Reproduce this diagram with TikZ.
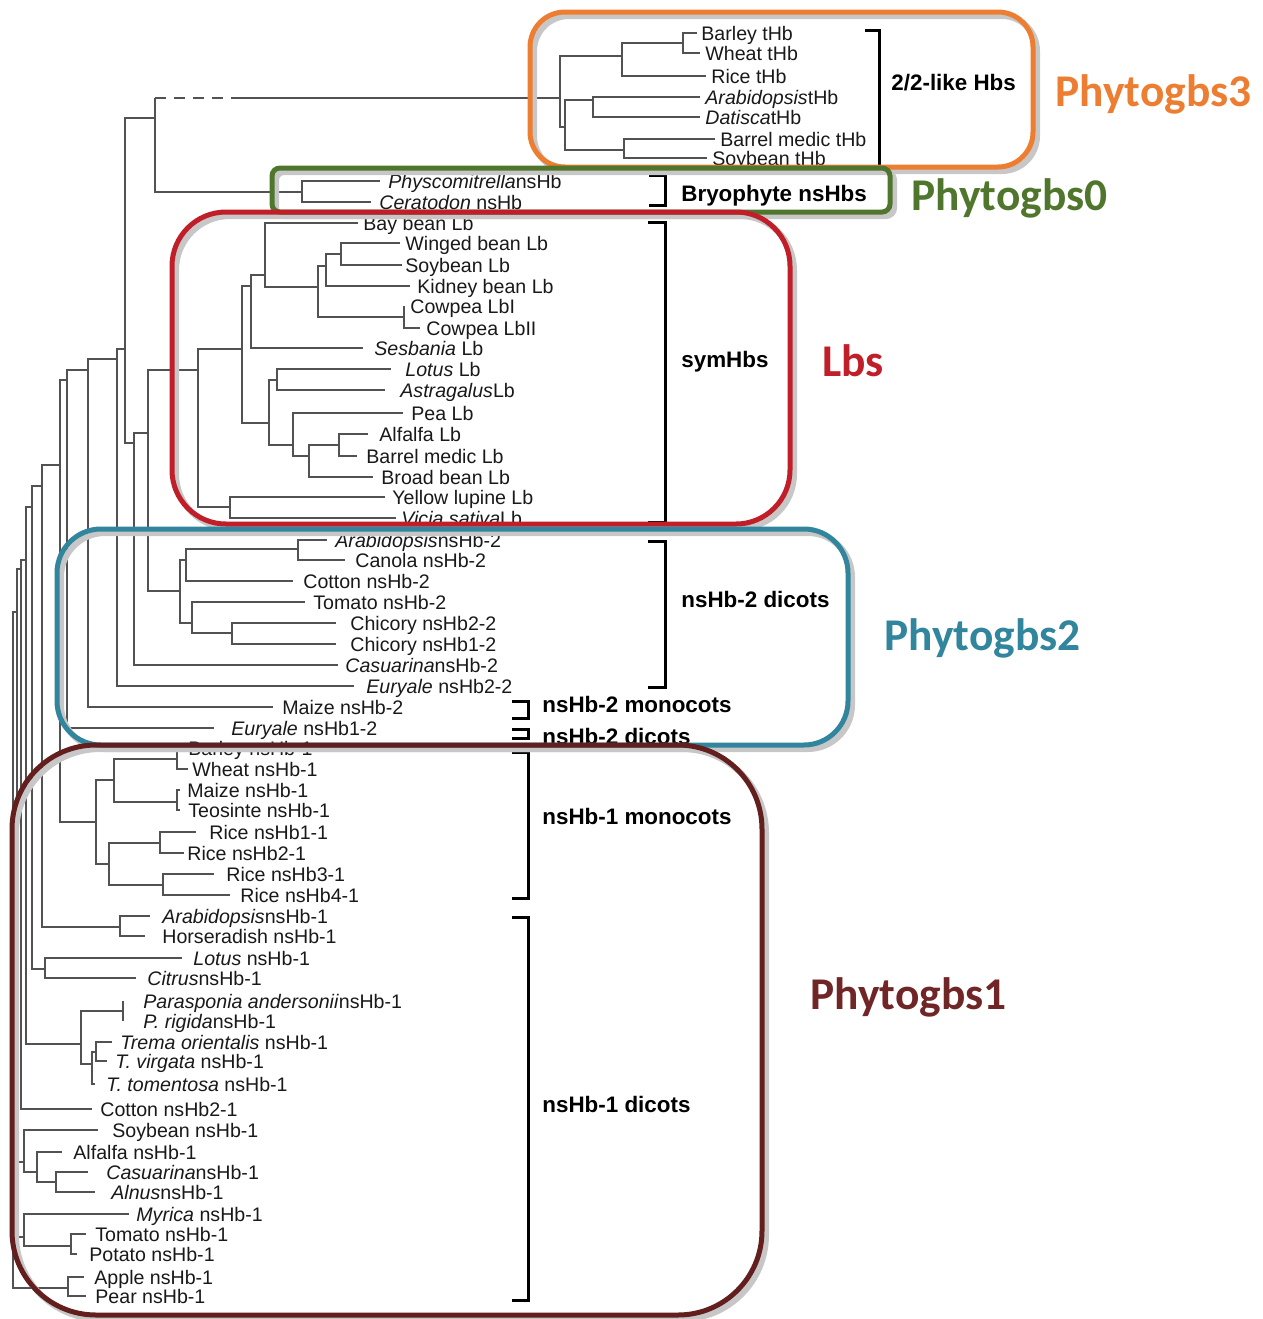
\documentclass[tikz,border=0pt]{standalone}
\usepackage{fontspec}
\setmainfont{Liberation Sans}
\newfontfamily\bigfont{Carlito}
\definecolor{corange}{RGB}{237,125,49}
\definecolor{cgreen}{RGB}{79,118,44}
\definecolor{cred}{RGB}{192,30,40}
\definecolor{cteal}{RGB}{49,133,156}
\definecolor{cbrown}{RGB}{99,30,30}
\definecolor{cbrownt}{RGB}{112,38,38}
\newcommand\phyleaf[5]{\coordinate (#1) at (#2,#3); \node[lab] (#1-t) at (#4,#3) {#5};}
\newcommand\phynode[3]{\coordinate (#1) at (#2,#3);}
\begin{document}
\begin{tikzpicture}[x=0.5pt,y=-0.5pt,
 branch/.style={draw=black!68, line width=0.95pt},
 lab/.style={anchor=west, inner sep=0pt, font=\fontsize{9.8}{11}\selectfont, text height=7.1pt, text depth=0pt, text=black!90},
 grp/.style={anchor=west, inner sep=0pt, font=\bfseries\fontsize{11.2}{12}\selectfont, text height=8.1pt, text depth=0pt},
 brk/.style={draw=black, line width=1.5pt},
 big/.style={anchor=west, inner sep=0pt, font=\bigfont\bfseries\fontsize{22.7}{24}\selectfont, text height=14.6pt, text depth=0pt},
 boxshadow/.style={draw=black!22, line width=3pt, shift={(4,4)}},
 boxline/.style={line width=2.5pt}
 ]
\useasboundingbox (0,0) rectangle (1263,1319);

% ---------- leaves ----------
\phyleaf{BarT}{697}{33}{701}{Barley tHb}
\phyleaf{WheT}{700}{53}{705}{Wheat tHb}
\phyleaf{RicT}{706}{76}{711}{Rice tHb}
\phyleaf{AraT}{700}{97}{705}{\textit{Arabidopsis}tHb}
\phyleaf{DatT}{700}{117}{705}{\textit{Datisca}tHb}
\phyleaf{BmT}{715}{139}{720}{Barrel medic tHb}
\phyleaf{SoyT}{707}{158}{712}{Soybean tHb}
\phyleaf{Phy}{380}{181}{388}{\textit{Physcomitrella}nsHb}
\phyleaf{Cer}{371}{202}{379}{\textit{Ceratodon} nsHb}
\phyleaf{Bay}{358}{223}{363}{Bay bean Lb}
\phyleaf{Win}{400}{243}{405}{Winged bean Lb}
\phyleaf{SoyL}{402}{265}{405}{Soybean Lb}
\phyleaf{Kid}{410}{286}{417}{Kidney bean Lb}
\phyleaf{CoI}{404}{306}{410}{Cowpea LbI}
\phyleaf{CoII}{420}{328}{426}{Cowpea LbII}
\phyleaf{Ses}{363}{348}{374}{\textit{Sesbania} Lb}
\phyleaf{Lot}{391}{369}{405}{\textit{Lotus} Lb}
\phyleaf{Ast}{385}{390}{400}{\textit{Astragalus}Lb}
\phyleaf{Pea}{403}{413}{411}{Pea Lb}
\phyleaf{Alf}{368}{434}{379}{Alfalfa Lb}
\phyleaf{BmL}{357}{456}{366}{Barrel medic Lb}
\phyleaf{Bro}{373}{477}{381}{Broad bean Lb}
\phyleaf{Yel}{385}{497}{392}{Yellow lupine Lb}
\phyleaf{Vic}{396}{518}{401}{\textit{Vicia sativa}Lb}
\phyleaf{Ara2}{327}{540}{335}{\textit{Arabidopsis}nsHb-2}
\phyleaf{Can2}{345}{560}{355}{Canola nsHb-2}
\phyleaf{Cot2}{293}{581}{303}{Cotton nsHb-2}
\phyleaf{Tom2}{305}{602}{313}{Tomato nsHb-2}
\phyleaf{Ch22}{336}{623}{350}{Chicory nsHb2-2}
\phyleaf{Ch12}{336}{644}{350}{Chicory nsHb1-2}
\phyleaf{Cas2}{338}{665}{345}{\textit{Casuarina}nsHb-2}
\phyleaf{Eu22}{354}{686}{366}{\textit{Euryale} nsHb2-2}
\phyleaf{Mz2}{273}{707}{282}{Maize nsHb-2}
\phyleaf{Eu12}{214}{728}{231}{\textit{Euryale} nsHb1-2}
\phyleaf{Bar1}{184}{748}{188}{Barley nsHb-1}
\phyleaf{Whe1}{188}{769}{192}{Wheat nsHb-1}
\phyleaf{Mz1}{180}{790}{187}{Maize nsHb-1}
\phyleaf{Teo1}{180}{810}{188}{Teosinte nsHb-1}
\phyleaf{Ri1}{196}{832}{209}{Rice nsHb1-1}
\phyleaf{Ri2}{184}{853}{187}{Rice nsHb2-1}
\phyleaf{Ri3}{214}{874}{226}{Rice nsHb3-1}
\phyleaf{Ri4}{230}{895}{240}{Rice nsHb4-1}
\phyleaf{Ara1}{150}{916}{162}{\textit{Arabidopsis}nsHb-1}
\phyleaf{Hor1}{145}{936}{162}{Horseradish nsHb-1}
\phyleaf{Lot1}{182}{958}{193}{\textit{Lotus} nsHb-1}
\phyleaf{Cit1}{136}{978}{147}{\textit{Citrus}nsHb-1}
\phyleaf{Par1}{123}{1001}{143}{\textit{Parasponia andersonii}nsHb-1}
\phyleaf{Rig1}{123}{1021}{143}{\textit{P. rigida}nsHb-1}
\phyleaf{Tre1}{112}{1042}{120}{\textit{Trema orientalis} nsHb-1}
\phyleaf{Vir1}{107}{1061}{115}{\textit{T. virgata} nsHb-1}
\phyleaf{Tto1}{95}{1084}{106}{\textit{T. tomentosa} nsHb-1}
\phyleaf{Co21}{92}{1109}{100}{Cotton nsHb2-1}
\phyleaf{Soy1}{98}{1130}{112}{Soybean nsHb-1}
\phyleaf{Alf1}{62}{1152}{73}{Alfalfa nsHb-1}
\phyleaf{Cas1}{88}{1172}{106}{\textit{Casuarina}nsHb-1}
\phyleaf{Aln1}{95}{1192}{111}{\textit{Alnus}nsHb-1}
\phyleaf{Myr1}{129}{1214}{136}{\textit{Myrica} nsHb-1}
\phyleaf{Tom1}{86}{1234}{95}{Tomato nsHb-1}
\phyleaf{Pot1}{77}{1254}{89}{Potato nsHb-1}
\phyleaf{App1}{84}{1277}{94}{Apple nsHb-1}
\phyleaf{Pea1}{86}{1296}{95}{Pear nsHb-1}

% ---------- internal nodes ----------
\phynode{n683}{683}{43}
\phynode{n622}{622}{56}
\phynode{n593}{593}{100}
\phynode{n624}{624}{150}
\phynode{n565}{565}{127}
\phynode{n560}{560}{98}
\phynode{n302}{302}{192}
\phynode{n155}{155}{118}
\coordinate (dsh) at (240,98);
\phynode{nP}{339}{445}
\phynode{nO}{309}{456}
\phynode{nN}{293}{445}
\phynode{nM}{277}{380}
\phynode{nH}{269}{423}
\phynode{nL}{341}{254}
\phynode{nCow}{404}{317}
\phynode{nK}{326}{266}
\phynode{nJ}{318}{287}
\phynode{nI}{265}{275}
\phynode{nG}{251}{286}
\phynode{nF}{242}{349}
\phynode{nYL}{230}{507}
\phynode{nE}{198}{370}
\phynode{nAC}{298}{549}
\phynode{nR}{186}{560}
\phynode{nT}{232}{633}
\phynode{nS}{192}{623}
\phynode{nQ}{180}{591}
\phynode{nD}{148}{433}
\phynode{nC}{134}{443}
\phynode{nA}{125}{349}
\phynode{n117}{117}{359}
\phynode{n88}{88}{370}
\phynode{n67}{67}{380}
\phynode{nBW}{177}{759}
\phynode{nMT}{177}{802}
\phynode{n114}{114}{780}
\phynode{nR12}{160}{843}
\phynode{nR34}{163}{885}
\phynode{n109}{109}{864}
\phynode{nMono}{96}{822}
\phynode{n60}{60}{465}
\phynode{nAH}{120}{927}
\phynode{n42}{42}{486}
\phynode{nLC}{45}{969}
\phynode{n32}{32}{507}
\phynode{nPar}{123}{1011}
\phynode{nU}{96}{1052}
\phynode{nV}{92}{1064}
\phynode{nPT}{81}{1044}
\phynode{n26}{26}{560}
\phynode{n21}{21}{569}
\phynode{nCA}{56}{1182}
\phynode{nAlf}{37}{1172}
\phynode{nSoy}{24}{1162}
\phynode{nTP}{71}{1246}
\phynode{nMyr}{24}{1237}
\phynode{n18}{18}{1200}
\phynode{n17}{17}{612}
\phynode{nAP}{68}{1288}
\phynode{n13}{13}{900}

% ---------- branches ----------
\foreach \a/\p/\b in {BarT/n683/WheT, n683/n622/RicT, AraT/n593/DatT, BmT/n624/SoyT,
  n593/n565/n624, n622/n560/n565, Phy/n302/Cer,
  Alf/nP/BmL, nP/nO/Bro, Pea/nN/nO, Lot/nM/Ast, nM/nH/nN,
  Win/nL/SoyL, CoI/nCow/CoII, nL/nK/Kid, nK/nJ/nCow, Bay/nI/nJ, nI/nG/Ses,
  nG/nF/nH, Yel/nYL/Vic, nF/nE/nYL,
  Ara2/nAC/Can2, nAC/nR/Cot2, Ch22/nT/Ch12, Tom2/nS/nT, nR/nQ/nS,
  nE/nD/nQ, nD/nC/Cas2, n155/nA/nC, nA/n117/Eu22, n117/n88/Mz2, n88/n67/Eu12,
  Bar1/nBW/Whe1, Mz1/nMT/Teo1, nBW/n114/nMT, Ri1/nR12/Ri2, Ri3/nR34/Ri4,
  nR12/n109/nR34, n114/nMono/n109, n67/n60/nMono,
  Ara1/nAH/Hor1, n60/n42/nAH, Lot1/nLC/Cit1, n42/n32/nLC,
  Par1/nPar/Rig1, Tre1/nU/Vir1, nU/nV/Tto1, nPar/nPT/nV, n32/n26/nPT,
  n26/n21/Co21, Cas1/nCA/Aln1, Alf1/nAlf/nCA, Soy1/nSoy/nAlf,
  Tom1/nTP/Pot1, Myr1/nMyr/nTP, nSoy/n18/nMyr, n21/n17/n18, n17/n13/nAP,
  App1/nAP/Pea1}
  {\draw[branch] (\a) -| (\p) |- (\b);}
\draw[branch] (n302) -| (n155) -- (n155 |- n560);
\draw[branch, dash pattern=on 5.5pt off 4pt] (n155 |- n560) -- (dsh);
\draw[branch] (dsh) -- (n560);

% ---------- brackets ----------
\draw[brk] (865,30) -- (879,30) -- (879,165);
\draw[brk] (649,175) -- (665,175) -- (665,205) -- (649,205);
\draw[brk] (648,222) -- (665,222) -- (665,522) -- (648,522);
\draw[brk] (648,541) -- (665,541) -- (665,687) -- (648,687);
\draw[brk] (512,701) -- (528,701) -- (528,718) -- (512,718);
\draw[brk] (512,729) -- (528,729) -- (528,738) -- (512,738);
\draw[brk] (512,752) -- (528,752) -- (528,898) -- (512,898);
\draw[brk] (512,917) -- (528,917) -- (528,1300) -- (512,1300);

% ---------- group labels ----------
\node[grp] (g22) at (891,82) {2/2-like Hbs};
\node[grp] (gbry) at (681,193) {Bryophyte nsHbs};
\node[grp] (gsym) at (681,359) {symHbs};
\node[grp] (g2d) at (681,599) {nsHb-2 dicots};
\node[grp] (g2m) at (542,704) {nsHb-2 monocots};
\node[grp] (g2d2) at (542,736) {nsHb-2 dicots};
\node[grp] (g1m) at (542,816) {nsHb-1 monocots};
\node[grp] (g1d) at (542,1104) {nsHb-1 dicots};

% ---------- boxes ----------
\draw[boxshadow, rounded corners=17.5pt] (530,12) rectangle (1033,167);
\draw[boxshadow, rounded corners=4pt] (272,168) rectangle (890,212);
\draw[boxshadow, rounded corners=27pt] (172,212) rectangle (790,524);
\draw[boxshadow, rounded corners=22pt] (57,529) rectangle (848,745);
\draw[boxshadow, rounded corners=42pt] (12,745) rectangle (762,1315);
\draw[boxline, draw=corange, rounded corners=17.5pt] (530,12) rectangle (1033,167);
\draw[boxline, draw=cgreen, rounded corners=4pt] (272,168) rectangle (890,212);
\draw[boxline, draw=cred, rounded corners=27pt] (172,212) rectangle (790,524);
\draw[boxline, draw=cteal, rounded corners=22pt] (57,529) rectangle (848,745);
\draw[boxline, draw=cbrown, rounded corners=42pt] (12,745) rectangle (762,1315);

% ---------- big labels ----------
\node[big, text=corange] (L3) at (1055,92) {Phytogbs3};
\node[big, text=cgreen] (L0) at (911,196) {Phytogbs0};
\node[big, text=cred] (Llb) at (822,362) {Lbs};
\node[big, text=cteal] (L2) at (884,636) {Phytogbs2};
\node[big, text=cbrownt] (L1) at (810,995) {Phytogbs1};
\end{tikzpicture}
\end{document}
